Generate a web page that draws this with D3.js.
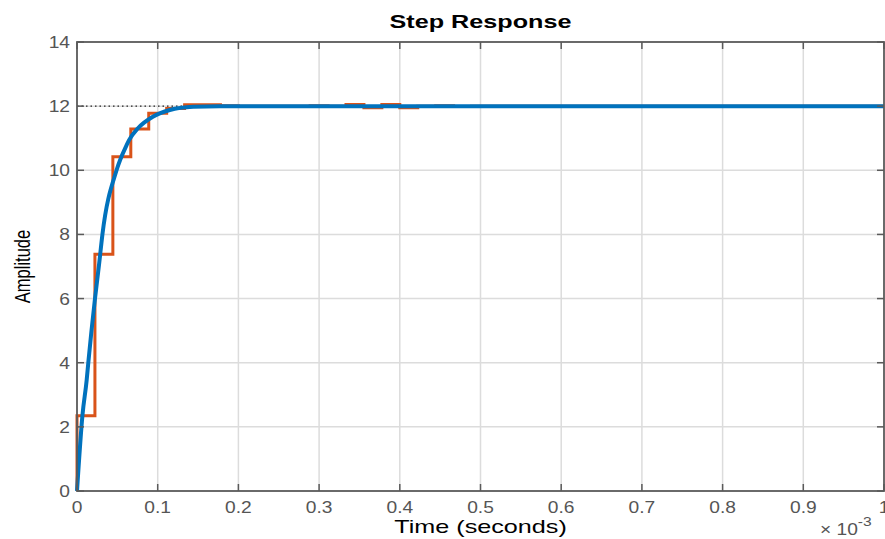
<!DOCTYPE html>
<html>
<head>
<meta charset="utf-8">
<script src="https://cdn.jsdelivr.net/npm/d3@7"></script>
<style>
    body { margin: 0; background: #fff; }
    svg { display: block; font-family: "Liberation Sans", Arial, sans-serif; }
    .grid line { stroke: #dcdcdc; stroke-width: 1.5; }
    .tick-label { fill: #555; font-size: 16px; }
</style>
</head>
<body>
<div id="chart"></div>
<script>
// x values are in units of 1e-3 seconds
let xTicks = [0, 0.1, 0.2, 0.3, 0.4, 0.5, 0.6, 0.7, 0.8, 0.9, 1];
let yTicks = [0, 2, 4, 6, 8, 10, 12, 14];

// continuous step response
let contTime = [0, 0.0068, 0.012, 0.014, 0.0223, 0.0275, 0.0315, 0.049, 0.0616, 0.0645, 0.0755, 0.094, 0.115, 0.144, 0.177, 0.25, 0.5, 1.0];
let contAmp  = [0, 2.37, 3.46, 4.0, 6.0, 7.1, 8.0, 10.0, 10.79, 10.94, 11.31, 11.67, 11.88, 11.98, 12.0, 12.0, 12.0, 12.0];

// discrete (zero-order hold) response, one value per sample
let sampleTime = 1 / 45;
let discAmp = [2.35, 7.38, 10.42, 11.29, 11.78, 11.93, 12.04, 12.04, 12.01, 12.0,
               12.0, 12.0, 12.0, 12.01, 12.0, 12.05, 11.95, 12.05, 11.95, 12.0,
               12.01, 11.99, 12.0, 12.0, 12.0, 12.0, 12.0, 12.0, 12.0, 12.0,
               12.0, 12.0, 12.0, 12.0, 12.0, 12.0, 12.0, 12.0, 12.0, 12.0,
               12.0, 12.0, 12.0, 12.0, 12.0];
let finalValue = 12;

let width = 885, height = 539;
let margin = { top: 42, right: 1, bottom: 48, left: 77 };

let x = d3.scaleLinear().domain([0, 1]).range([margin.left, width - margin.right]);
let y = d3.scaleLinear().domain([0, 14]).range([height - margin.bottom, margin.top]);

let svg = d3.select('#chart').append('svg')
    .attr('width', width)
    .attr('height', height);

// the picture is stretched sideways, so text gets a horizontal scale
function wideText(parent, px, py, sx, anchor) {
    return parent.append('text')
        .attr('transform', 'translate(' + px + ',' + py + ') scale(' + sx + ',1)')
        .attr('text-anchor', anchor);
}

// grid
let grid = svg.append('g').attr('class', 'grid');
grid.selectAll('.vg').data(xTicks.slice(1, -1)).enter().append('line')
    .attr('x1', d => x(d)).attr('x2', d => x(d))
    .attr('y1', y(0)).attr('y2', y(14));
grid.selectAll('.hg').data(yTicks.slice(1, -1)).enter().append('line')
    .attr('y1', d => y(d)).attr('y2', d => y(d))
    .attr('x1', x(0)).attr('x2', x(1));

// steady state dotted line
svg.append('line')
    .attr('x1', x(0)).attr('x2', x(0.18))
    .attr('y1', y(finalValue)).attr('y2', y(finalValue))
    .attr('stroke', '#222')
    .attr('stroke-width', 1.3)
    .attr('stroke-dasharray', '1.5,3');

// stairs for the sampled response
let stairs = [[0, 0]];
discAmp.forEach((v, k) => {
    stairs.push([k * sampleTime, v]);
    stairs.push([Math.min((k + 1) * sampleTime, 1), v]);
});
let stairLine = d3.line()
    .x(d => x(d[0]))
    .y(d => y(d[1]));

svg.append('path')
    .datum(stairs)
    .attr('d', stairLine)
    .attr('fill', 'none')
    .attr('stroke', '#D95319')
    .attr('stroke-width', 3);

// continuous curve
let contLine = d3.line()
    .x(d => x(d[0]))
    .y(d => y(d[1]))
    .curve(d3.curveMonotoneX);

svg.append('path')
    .datum(contTime.map((t, i) => [t, contAmp[i]]))
    .attr('d', contLine)
    .attr('fill', 'none')
    .attr('stroke', '#0072BD')
    .attr('stroke-width', 4);

// axes box with inward ticks
let axisColor = '#5a5a5a';
let tickLen = 7;
svg.append('rect')
    .attr('x', x(0)).attr('y', y(14))
    .attr('width', x(1) - x(0)).attr('height', y(0) - y(14))
    .attr('fill', 'none')
    .attr('stroke', axisColor)
    .attr('stroke-width', 1.8);

let ticks = svg.append('g').attr('stroke', axisColor).attr('stroke-width', 1.5);
xTicks.forEach(t => {
    ticks.append('line').attr('x1', x(t)).attr('x2', x(t)).attr('y1', y(0)).attr('y2', y(0) - tickLen);
    ticks.append('line').attr('x1', x(t)).attr('x2', x(t)).attr('y1', y(14)).attr('y2', y(14) + tickLen);
});
yTicks.forEach(t => {
    ticks.append('line').attr('y1', y(t)).attr('y2', y(t)).attr('x1', x(0)).attr('x2', x(0) + tickLen);
    ticks.append('line').attr('y1', y(t)).attr('y2', y(t)).attr('x1', x(1)).attr('x2', x(1) - tickLen);
});

// tick labels
xTicks.forEach(t => {
    wideText(svg, x(t), y(0) + 22, 1.2, 'middle')
        .attr('class', 'tick-label')
        .text(d3.format('~g')(t));
});
yTicks.forEach(t => {
    wideText(svg, x(0) - 7, y(t) + 6, 1.2, 'end')
        .attr('class', 'tick-label')
        .text(t);
});

// exponent label
let expo = wideText(svg, 820, 535, 1.2, 'start').attr('class', 'tick-label');
expo.append('tspan').text('\u00d7 10');
expo.append('tspan').attr('dy', -9).attr('font-size', 13).text('-3');

// titles
wideText(svg, (x(0) + x(1)) / 2, 28, 1.4, 'middle')
    .attr('font-weight', 'bold')
    .attr('font-size', 18)
    .attr('fill', '#000')
    .text('Step Response');

wideText(svg, (x(0) + x(1)) / 2, 533, 1.4, 'middle')
    .attr('font-size', 18)
    .attr('fill', '#000')
    .text('Time (seconds)');

svg.append('text')
    .attr('transform', 'translate(30,' + ((y(0) + y(14)) / 2) + ') scale(1.35,1) rotate(-90)')
    .attr('text-anchor', 'middle')
    .attr('font-size', 16.5)
    .attr('fill', '#000')
    .text('Amplitude');
</script>
</body>
</html>
